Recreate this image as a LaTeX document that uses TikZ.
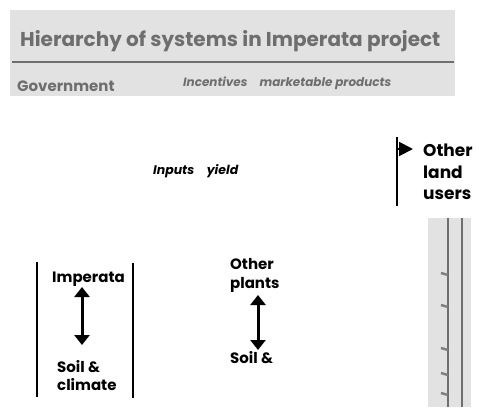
\documentclass[tikz,border=0pt]{standalone}
\usepackage{fontspec}
\setmainfont{Poppins}
\usetikzlibrary{arrows.meta}
\definecolor{bandgrey}{RGB}{226,226,226}
\definecolor{inkgrey}{RGB}{110,110,110}
\tikzset{
  lbl/.style={anchor=base west, inner sep=0pt, font=\fontsize{15}{18}\selectfont\bfseries},
  titlelbl/.style={anchor=base west, inner sep=0pt, text=inkgrey, font=\fontsize{20}{24}\selectfont\bfseries},
  smalllbl/.style={anchor=base west, inner sep=0pt, font=\fontsize{12.5}{14}\selectfont\bfseries\itshape},
  dbl/.style={{Triangle[width=15pt,length=10pt]}-{Triangle[width=15pt,length=10pt]}, line width=3pt},
  bar/.style={line width=1.6pt},
}
\begin{document}
\begin{tikzpicture}[x=1pt,y=-1pt]
\useasboundingbox (0,0) rectangle (479,407);
% grey band
\fill[bandgrey] (10,10) rectangle (455,96);
\node[titlelbl] (title) at (20,46) {Hierarchy of systems in Imperata project};
\coordinate (rl) at (12,62);
\coordinate (rr) at (454,62);
\draw[line width=2pt, inkgrey] (rl) -- (rr);
\node[anchor=base west, inner sep=0pt, text=inkgrey, font=\fontsize{15}{18}\selectfont\bfseries] (gov) at (17,91) {Government};
\node[anchor=base west, inner sep=0pt, text=inkgrey, font=\fontsize{12}{14}\selectfont\bfseries\itshape] (inc) at (183,86) {Incentives\quad marketable products};
% inputs yield
\node[smalllbl] (inp) at (153,174) {Inputs\quad yield};
% other land users
\coordinate (olt) at (397,137);
\coordinate (olb) at (397,206);
\draw[line width=2.2pt] (olt) -- (olb);
\coordinate (ola) at (396,149);
\coordinate (olat) at (413,149);
\node[inner sep=0pt, anchor=base west, font=\fontsize{17}{21}\selectfont\bfseries] (olu1) at (423,156) {Other};
\node[inner sep=0pt, anchor=base west, font=\fontsize{17}{21}\selectfont\bfseries] (olu2) at (423,178) {land};
\node[inner sep=0pt, anchor=base west, font=\fontsize{17}{21}\selectfont\bfseries] (olu3) at (423,199) {users};
\draw[-{Triangle[width=14pt,length=14pt]}, line width=2pt] (ola) -- (olat);
% right strip
\fill[bandgrey] (428,218) rectangle (471,407);
\coordinate (s1t) at (448,218);
\coordinate (s1b) at (448,407);
\coordinate (s2t) at (462,218);
\coordinate (s2b) at (462,407);
\draw[line width=2pt, inkgrey] (s1t) -- (s1b);
\draw[line width=2pt, inkgrey] (s2t) -- (s2b);
\foreach \yy in {273,305,348,373,393}{
  \draw[line width=2.5pt, gray] (441,\yy) -- (448,\yy+2);
}
% left box
\coordinate (llt) at (37,262);
\coordinate (llb) at (37,397);
\coordinate (lrt) at (133,263);
\coordinate (lrm) at (133,313);
\coordinate (lrb) at (133,398);
\draw[bar] (llt) -- (llb);
\draw[line width=2.4pt] (lrt) -- (lrm);
\draw[line width=1.2pt] (lrm) -- (lrb);
\node[lbl] (imp) at (52,282) {Imperata};
\node[lbl] (soil1) at (57,372) {Soil \&};
\node[lbl] (clim) at (57,390) {climate};
\draw[dbl] (82,287) coordinate (a1t) -- (82,345) coordinate (a1b);
% other plants
\node[lbl] (op1) at (230,269) {Other};
\node[lbl] (op2) at (230,288) {plants};
\node[lbl] (soil2) at (230,363) {Soil \&};
\draw[dbl] (258,295) coordinate (a2t) -- (258,350) coordinate (a2b);
\end{tikzpicture}
\end{document}
